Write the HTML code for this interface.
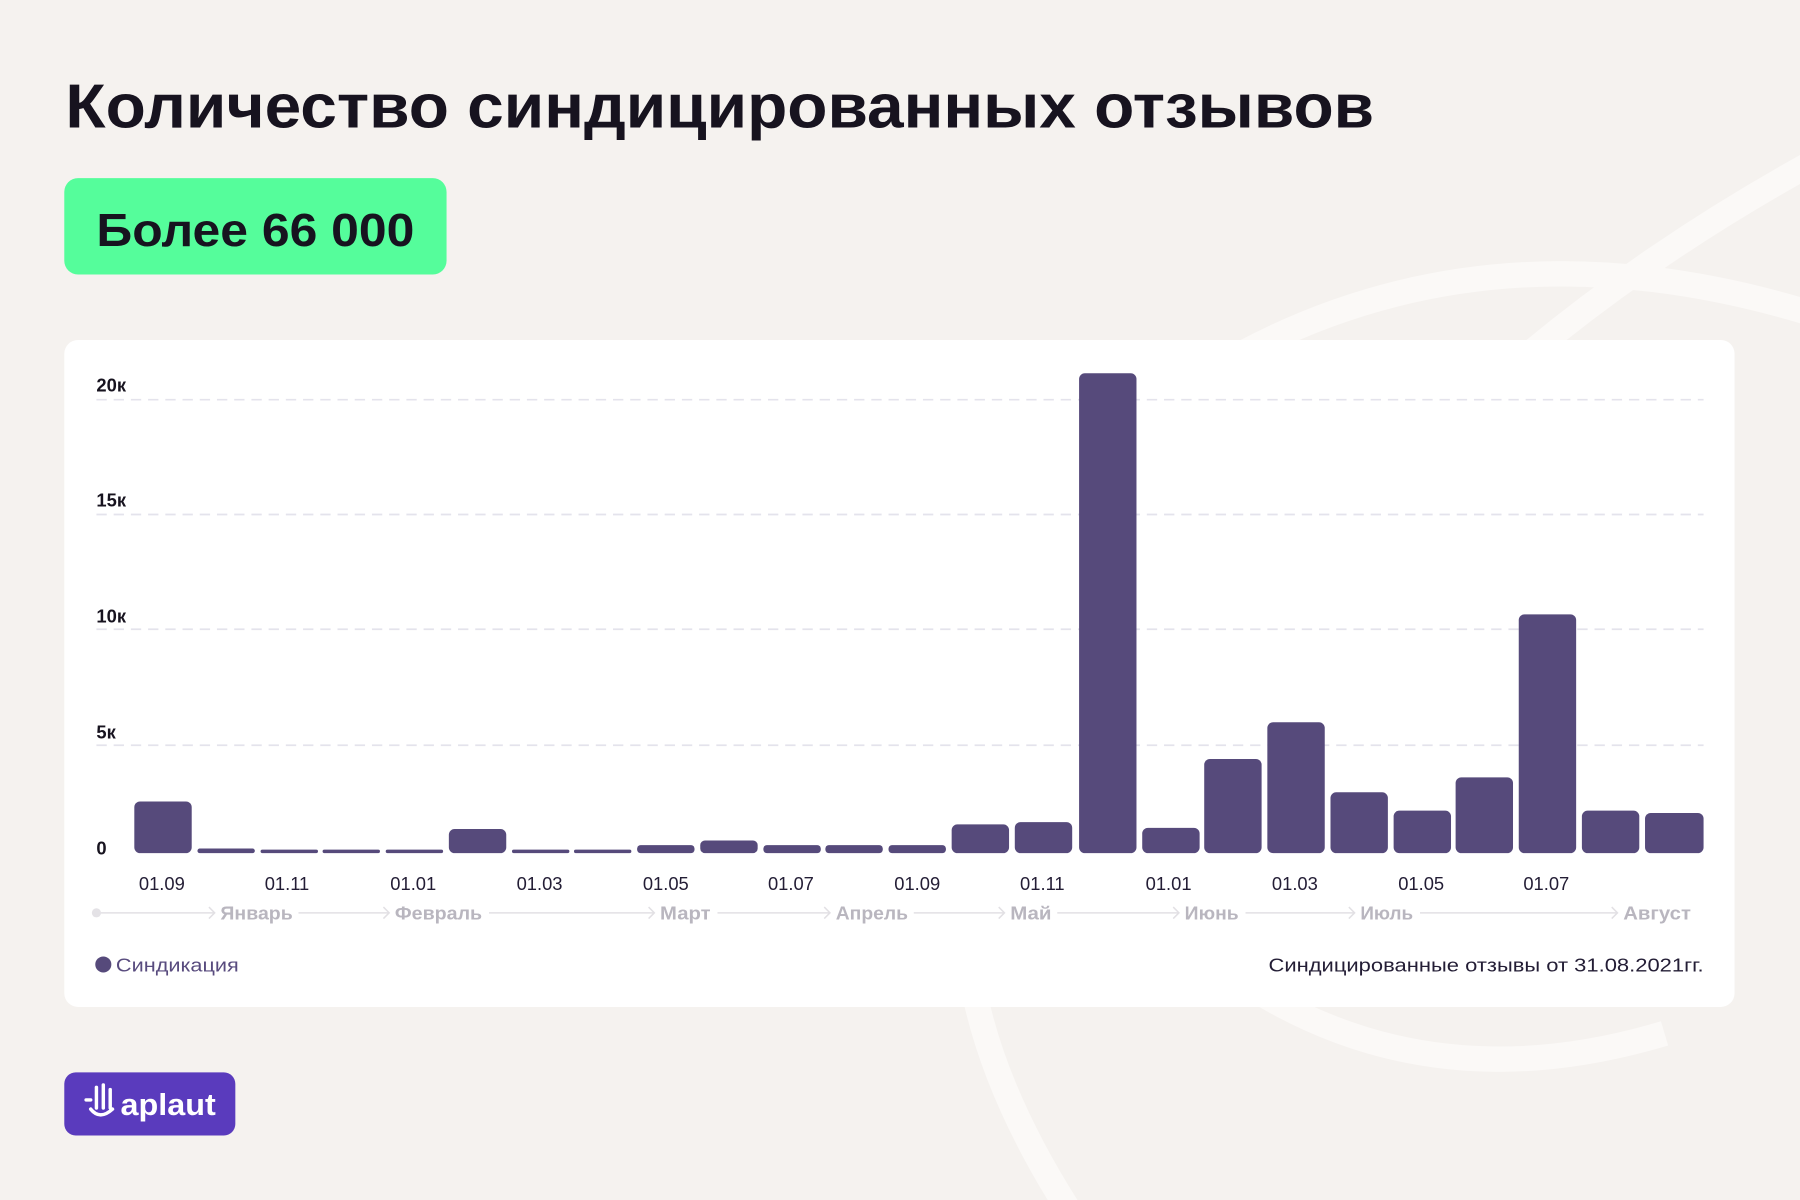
<!DOCTYPE html>
<html><head><meta charset="utf-8"><style>
html,body{margin:0;padding:0;background:#f5f2ef;}
svg{display:block;}
text{font-family:"Liberation Sans","DejaVu Sans",sans-serif;}
</style></head><body>
<svg width="1800" height="1200" viewBox="0 0 1568 1045" xmlns="http://www.w3.org/2000/svg">
<rect width="1568" height="1045" fill="#f5f2ef"/>
<g fill="none" stroke="#fbf9f7" stroke-width="22">
<path d="M1060 320 Q1300 180 1600 280"/>
<path d="M1330 310 Q1450 210 1600 130"/>
<path d="M850 870 Q870 960 935 1060"/>
<path d="M1090 860 Q1250 960 1450 900"/>
</g>
<text x="57" y="111" font-size="54" font-weight="bold" fill="#17131f" textLength="1140" lengthAdjust="spacingAndGlyphs">Количество синдицированных отзывов</text>
<rect x="56" y="155" width="333" height="84" rx="12" fill="#55fd9b"/>
<text x="84" y="214" font-size="40" font-weight="bold" fill="#17131f" textLength="277" lengthAdjust="spacingAndGlyphs">Более 66 000</text>
<rect x="56" y="296" width="1455" height="581" rx="12" fill="#ffffff"/>
<g stroke="#e4e3ec" stroke-width="1.5" stroke-dasharray="9,6">
<line x1="84" y1="348" x2="1484" y2="348"/>
<line x1="84" y1="448" x2="1484" y2="448"/>
<line x1="84" y1="548" x2="1484" y2="548"/>
<line x1="84" y1="649" x2="1484" y2="649"/>
</g>
<g font-size="16" font-weight="bold" fill="#17131f">
<text x="84" y="341">20к</text>
<text x="84" y="441">15к</text>
<text x="84" y="542">10к</text>
<text x="84" y="643">5к</text>
<text x="84" y="744">0</text>
</g>
<g fill="#564a7b">
<rect x="117" y="698" width="50" height="45" rx="5"/>
<rect x="172" y="739" width="50" height="4" rx="2"/>
<rect x="227" y="740" width="50" height="3" rx="1.5"/>
<rect x="281" y="740" width="50" height="3" rx="1.5"/>
<rect x="336" y="740" width="50" height="3" rx="1.5"/>
<rect x="391" y="722" width="50" height="21" rx="5"/>
<rect x="446" y="740" width="50" height="3" rx="1.5"/>
<rect x="500" y="740" width="50" height="3" rx="1.5"/>
<rect x="555" y="736" width="50" height="7" rx="3"/>
<rect x="610" y="732" width="50" height="11" rx="4"/>
<rect x="665" y="736" width="50" height="7" rx="3"/>
<rect x="719" y="736" width="50" height="7" rx="3"/>
<rect x="774" y="736" width="50" height="7" rx="3"/>
<rect x="829" y="718" width="50" height="25" rx="5"/>
<rect x="884" y="716" width="50" height="27" rx="5"/>
<rect x="940" y="325" width="50" height="418" rx="5"/>
<rect x="995" y="721" width="50" height="22" rx="5"/>
<rect x="1049" y="661" width="50" height="82" rx="5"/>
<rect x="1104" y="629" width="50" height="114" rx="5"/>
<rect x="1159" y="690" width="50" height="53" rx="5"/>
<rect x="1214" y="706" width="50" height="37" rx="5"/>
<rect x="1268" y="677" width="50" height="66" rx="5"/>
<rect x="1323" y="535" width="50" height="208" rx="5"/>
<rect x="1378" y="706" width="50" height="37" rx="5"/>
<rect x="1433" y="708" width="51" height="35" rx="5"/>
</g>
<g font-size="16" fill="#231d35" text-anchor="middle">
<text x="141" y="775">01.09</text>
<text x="250" y="775">01.11</text>
<text x="360" y="775">01.01</text>
<text x="470" y="775">01.03</text>
<text x="580" y="775">01.05</text>
<text x="689" y="775">01.07</text>
<text x="799" y="775">01.09</text>
<text x="908" y="775">01.11</text>
<text x="1018" y="775">01.01</text>
<text x="1128" y="775">01.03</text>
<text x="1238" y="775">01.05</text>
<text x="1347" y="775">01.07</text>
</g>
<circle cx="84" cy="795" r="4" fill="#e4e2e6"/>
<g stroke="#e2e0e4" stroke-width="1.3" fill="none">
<line x1="88" y1="795" x2="187" y2="795"/><path d="M182 790 L187 795 L182 800"/>
<line x1="260" y1="795" x2="339" y2="795"/><path d="M334 790 L339 795 L334 800"/>
<line x1="426" y1="795" x2="570" y2="795"/><path d="M565 790 L570 795 L565 800"/>
<line x1="625" y1="795" x2="723" y2="795"/><path d="M718 790 L723 795 L718 800"/>
<line x1="796" y1="795" x2="875" y2="795"/><path d="M870 790 L875 795 L870 800"/>
<line x1="921" y1="795" x2="1027" y2="795"/><path d="M1022 790 L1027 795 L1022 800"/>
<line x1="1085" y1="795" x2="1180" y2="795"/><path d="M1175 790 L1180 795 L1175 800"/>
<line x1="1237" y1="795" x2="1409" y2="795"/><path d="M1404 790 L1409 795 L1404 800"/>
</g>
<g font-size="16" font-weight="bold" fill="#b9b6bf">
<text x="192" y="801" textLength="63" lengthAdjust="spacingAndGlyphs">Январь</text>
<text x="344" y="801" textLength="76" lengthAdjust="spacingAndGlyphs">Февраль</text>
<text x="575" y="801" textLength="44" lengthAdjust="spacingAndGlyphs">Март</text>
<text x="728" y="801" textLength="63" lengthAdjust="spacingAndGlyphs">Апрель</text>
<text x="880" y="801" textLength="36" lengthAdjust="spacingAndGlyphs">Май</text>
<text x="1032" y="801" textLength="47" lengthAdjust="spacingAndGlyphs">Июнь</text>
<text x="1185" y="801" textLength="46" lengthAdjust="spacingAndGlyphs">Июль</text>
<text x="1414" y="801" textLength="59" lengthAdjust="spacingAndGlyphs">Август</text>
</g>
<circle cx="90" cy="840" r="7" fill="#564a7b"/>
<text x="101" y="846" font-size="16" fill="#584b7e" textLength="107" lengthAdjust="spacingAndGlyphs">Синдикация</text>
<text x="1105" y="846" font-size="16" fill="#231d35" textLength="379" lengthAdjust="spacingAndGlyphs">Синдицированные отзывы от 31.08.2021гг.</text>
<rect x="56" y="934" width="149" height="55" rx="10" fill="#5a3bbd"/>
<g stroke="#ffffff" stroke-width="3" fill="none" stroke-linecap="round">
<line x1="84" y1="947" x2="84" y2="965"/>
<line x1="90" y1="945" x2="90" y2="965"/>
<line x1="96" y1="949" x2="96" y2="965"/>
<line x1="75" y1="958" x2="79" y2="958"/>
<path d="M79 966 Q87 976 98 966"/>
</g>
<text x="105" y="971" font-size="27" font-weight="bold" fill="#ffffff" textLength="83" lengthAdjust="spacingAndGlyphs">aplaut</text>
</svg>
</body></html>
